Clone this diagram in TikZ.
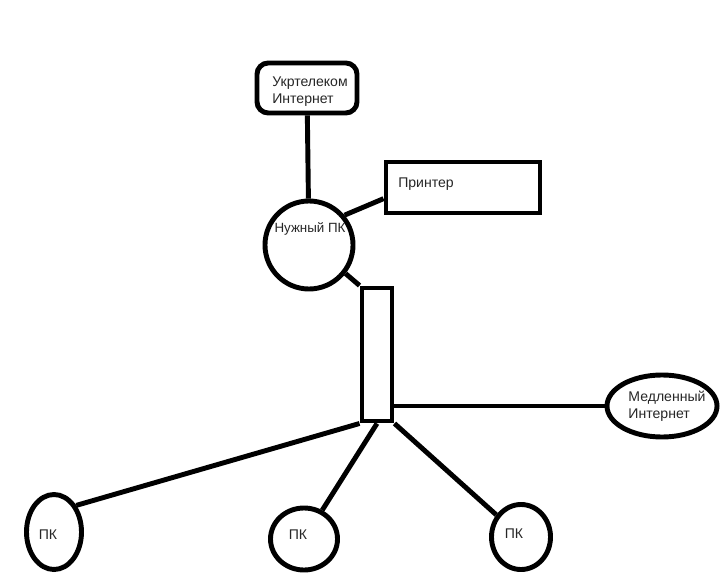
\documentclass[tikz,border=0pt]{standalone}
\usepackage{fontspec}
\setmainfont{Liberation Sans}
\usetikzlibrary{shapes.geometric}

\begin{document}
\begin{tikzpicture}[
x=0.025cm,y=-0.025cm,
wire/.style={line width=3.5pt},
shp/.style={draw,line width=3.5pt,inner sep=0pt},
txt/.style={font=\fontsize{10}{12}\selectfont,text=black!85,align=left,inner sep=0pt}]
\useasboundingbox (0,0) rectangle (720,576);
% shapes
\node[shp,rounded corners=8pt,minimum width=2.5cm,minimum height=1.25cm] (ukr) at (307,88) {};
\node[shp,circle,minimum size=2.2cm] (need) at (309,245) {};
\node[shp,minimum width=3.85cm,minimum height=1.275cm] (printer) at (463,187.5) {};
\node[shp,minimum width=0.75cm,minimum height=3.325cm] (sw) at (377,354.5) {};
\node[shp,ellipse,minimum width=2.75cm,minimum height=1.55cm] (slow) at (662,406) {};
\node[shp,ellipse,minimum width=1.375cm,minimum height=1.875cm] (pcA) at (54,532) {};
\node[shp,ellipse,minimum width=1.675cm,minimum height=1.55cm] (pcB) at (304,539) {};
\node[shp,ellipse,minimum width=1.475cm,minimum height=1.625cm] (pcC) at (521,537) {};
% texts
\node[txt] (ukrtxt) at (310,92) {Укртелеком\\Интернет};
\node[txt,font=\fontsize{9.5}{11}\selectfont] (needtxt) at (310,229) {Нужный ПК};
\node[txt] (printertxt) at (426,184) {Принтер};
\node[txt] (slowtxt) at (667,406) {Медленный\\Интернет};
\node[txt] (pcAtxt) at (48,535) {ПК};
\node[txt] (pcBtxt) at (298,535) {ПК};
\node[txt] (pcCtxt) at (514,534) {ПК};
% links
\draw[wire] (ukr) -- (need);
\draw[wire] (need.40) -- (printer.188);
\draw[wire] (need.-38) -- (sw.north west);
\draw[wire] (slow.west) -- (sw.east |- slow.west);
\draw[wire] (sw.south west) -- (pcA.50);
\draw[wire] (sw.south) -- (pcB);
\draw[wire] (sw.south east) -- (pcC);
\end{tikzpicture}
\end{document}
